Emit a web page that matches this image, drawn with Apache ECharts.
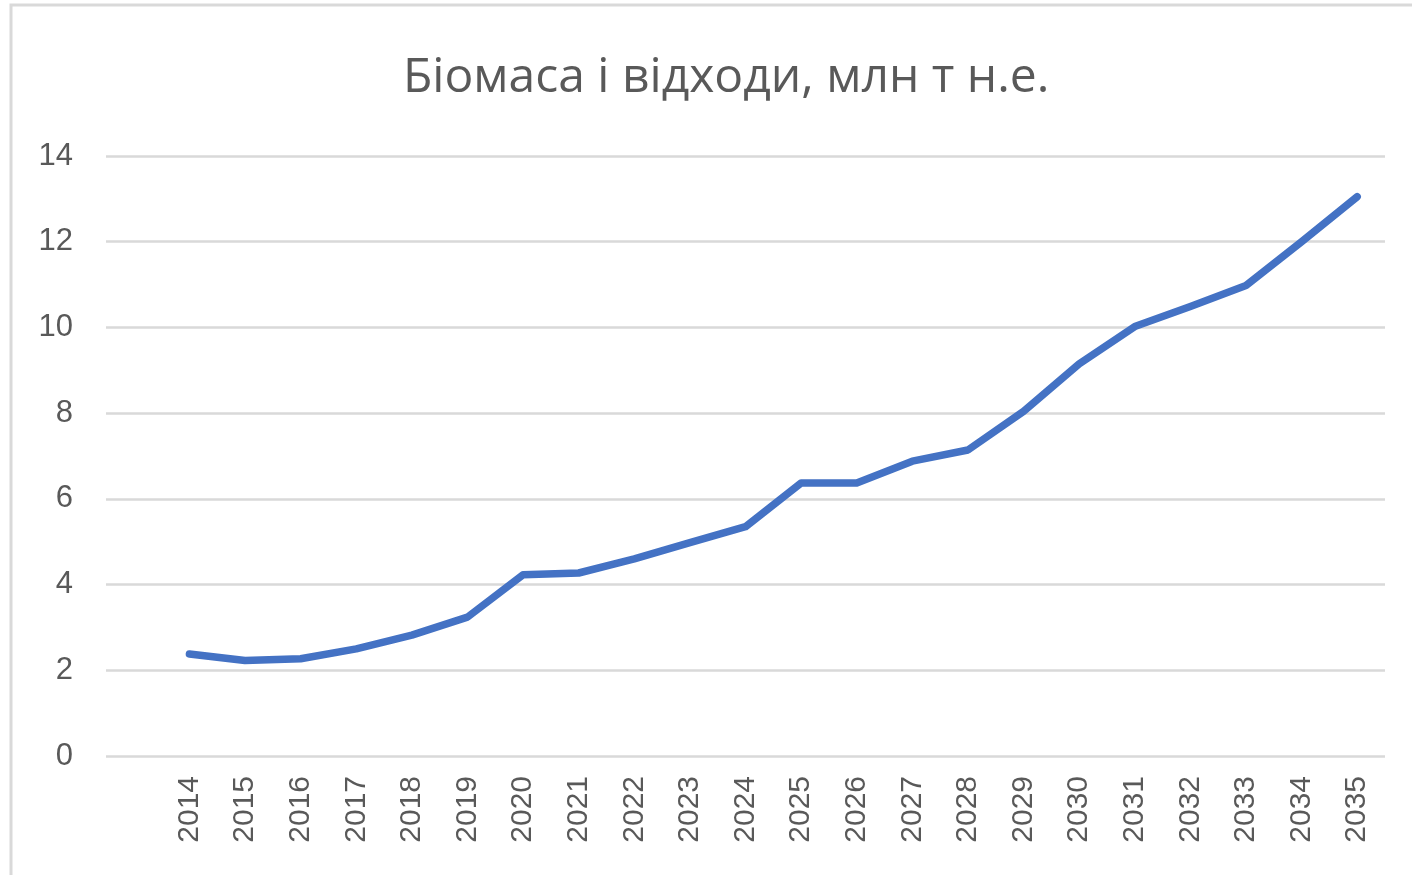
<!DOCTYPE html>
<html>
<head>
<meta charset="utf-8">
<script src="https://cdn.jsdelivr.net/npm/echarts@6/dist/echarts.min.js"></script>
<style>
html,body{margin:0;padding:0;background:#fff;}
#chart{width:1412px;height:875px;}
</style>
</head>
<body>
<div id="chart"></div>
<script>
const titleText = 'Біомаса і відходи, млн т н.е.';
const years = ['2014','2015','2016','2017','2018','2019','2020','2021','2022','2023','2024','2025','2026','2027','2028','2029','2030','2031','2032','2033','2034','2035'];
const values = [2.38,2.23,2.27,2.50,2.82,3.24,4.23,4.27,4.60,4.98,5.35,6.37,6.37,6.88,7.14,8.04,9.15,10.02,10.49,10.98,12.0,13.05];
const yTicks = [0,2,4,6,8,10,12,14];

// Excel chart has an empty leading category
const categories = [''].concat(years);
const seriesData = ['-'].concat(values);

const chart = echarts.init(document.getElementById('chart'));
chart.setOption({
  animation:false,
  backgroundColor:'#fff',
  title:{
    text:titleText,
    left:398,
    top:49,
    textStyle:{fontFamily:'Open Sans',fontSize:48,fontWeight:'normal',color:'#595959'}
  },
  graphic:[{
    type:'rect',
    shape:{x:11,y:5,width:1420,height:900},
    style:{fill:'none',stroke:'#d9d9d9',lineWidth:3},
    silent:true,z:-10
  }],
  grid:{left:106,right:27,top:156,bottom:119,containLabel:false},
  xAxis:{
    type:'category',
    data:categories,
    boundaryGap:true,
    axisLine:{show:false},
    axisTick:{show:false},
    axisLabel:{rotate:90,margin:20,interval:0,fontFamily:'Liberation Sans',fontSize:30,color:'#595959'}
  },
  yAxis:{
    type:'value',
    min:yTicks[0],
    max:yTicks[yTicks.length-1],
    interval:2,
    axisLine:{show:false},
    axisTick:{show:false},
    axisLabel:{margin:33,fontFamily:'Liberation Sans',fontSize:31,color:'#595959'},
    splitLine:{lineStyle:{color:'#d9d9d9',width:2.5}}
  },
  series:[{
    type:'line',
    data:seriesData,
    symbol:'none',
    smooth:false,
    connectNulls:false,
    lineStyle:{color:'#4472C4',width:7.5,cap:'round',join:'round'}
  }]
});
</script>
</body>
</html>
